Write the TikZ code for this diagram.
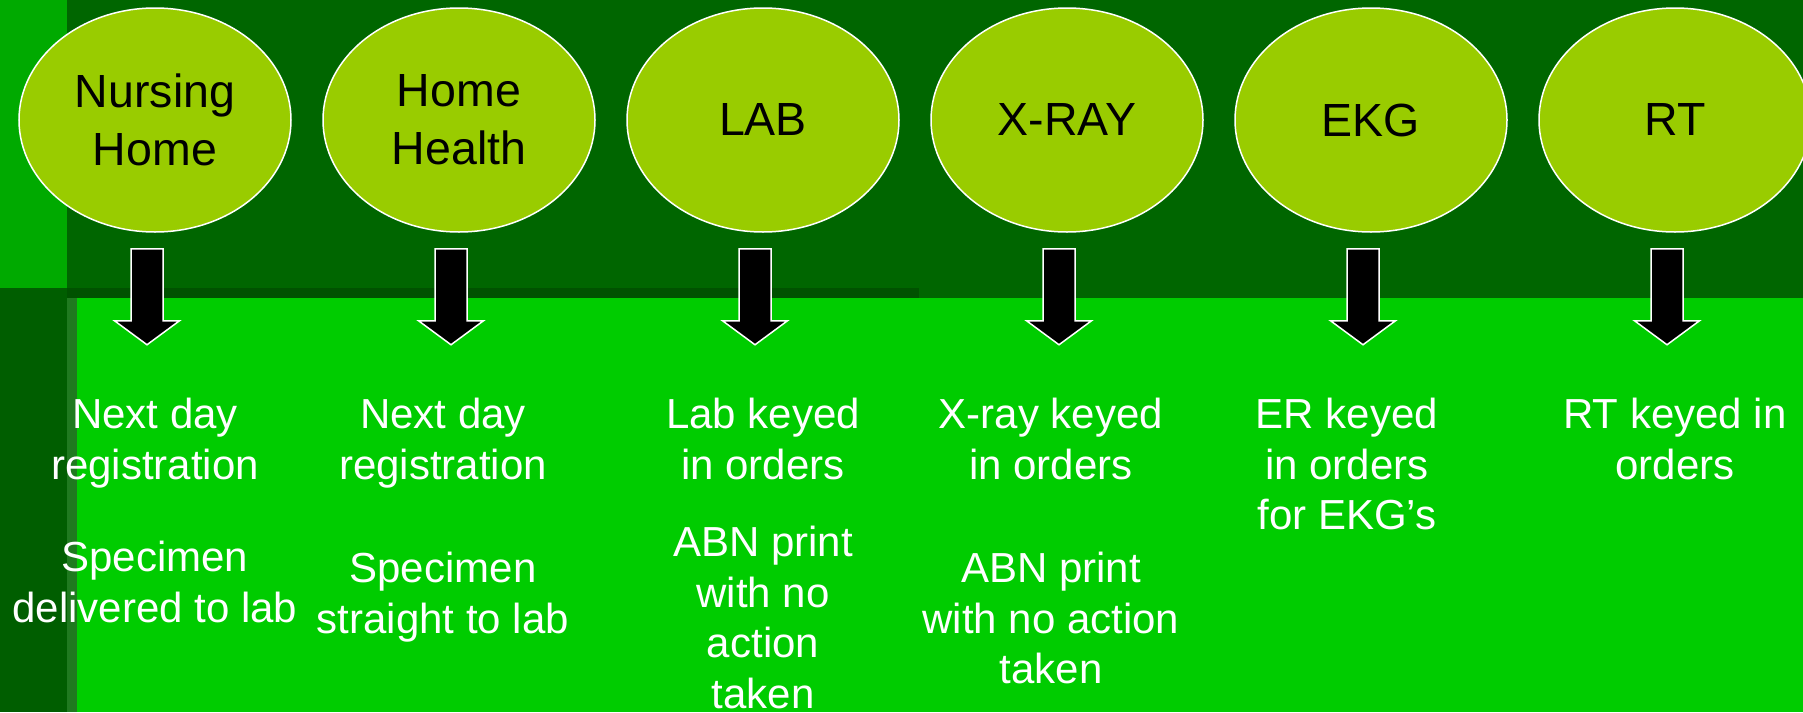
\documentclass[tikz,border=0pt]{standalone}
\usepackage{fontspec}
\setmainfont{Liberation Sans}
\usepackage{tikz}
\usetikzlibrary{shapes, positioning}

\definecolor{slidedark}{HTML}{006600}
\definecolor{slidelight}{HTML}{00CC00}
\definecolor{slidestrip}{HTML}{00AA00}
\definecolor{slideshade}{HTML}{005E00}
\definecolor{slideband}{HTML}{005200}
\definecolor{slideedge}{HTML}{1F7A1F}
\definecolor{stagefill}{HTML}{99CC00}

\tikzset{
  pics/downarrow/.style={code={
    \draw[blockarrow] (-16,0) -- (16,0) -- (16,72) -- (32.5,72) -- (0,96) -- (-32.5,72) -- (-16,72) -- cycle;
  }}
}

\begin{document}
\begin{tikzpicture}[
  x=1pt, y=-1pt,
  stage/.style={ellipse, draw=white, line width=1.5pt, fill=stagefill, minimum width=272pt, minimum height=224pt, inner sep=0pt, align=center, font=\fontsize{46.5}{58}\selectfont},
  note/.style={anchor=north, inner sep=0pt, align=center, text=white, font=\fontsize{42}{50.5}\selectfont},
  blockarrow/.style={fill=black, draw=white, line width=1.5pt}
]
  % slide background
  \useasboundingbox (0,0) rectangle (1803,712);
  \fill[slidelight] (0,0) rectangle (1803,712);
  \fill[slidedark] (67,0) rectangle (1803,298);
  \fill[slidestrip] (0,0) rectangle (67,288);
  \fill[slideshade] (0,288) rectangle (67,712);
  \fill[slideband] (67,288) rectangle (919,298);
  \fill[slideedge] (67,298) rectangle (77,712);

  % departments
  \node[stage] (d1) at (155,120) {Nursing\\Home};
  \node[stage] (d2) at (459,120) {Home\\Health};
  \node[stage] (d3) at (763,120) {LAB};
  \node[stage] (d4) at (1067,120) {X-RAY};
  \node[stage] (d5) at (1371,120) {EKG};
  \node[stage] (d6) at (1675,120) {RT};

  % arrows down to the notes
  \pic at ([xshift=-8pt,yshift=-16pt]d1.south) {downarrow};
  \pic at ([xshift=-8pt,yshift=-16pt]d2.south) {downarrow};
  \pic at ([xshift=-8pt,yshift=-16pt]d3.south) {downarrow};
  \pic at ([xshift=-8pt,yshift=-16pt]d4.south) {downarrow};
  \pic at ([xshift=-8pt,yshift=-16pt]d5.south) {downarrow};
  \pic at ([xshift=-8pt,yshift=-16pt]d6.south) {downarrow};

  % notes
  \node[note] (n11) at (155,398) {Next day\\registration};
  \node[note] (n12) at (155,541) {Specimen\\delivered to lab};
  \node[note] (n21) at (443,398) {Next day\\registration};
  \node[note] (n22) at (443,552) {Specimen\\straight to lab};
  \node[note] (n31) at (763,398) {Lab keyed\\in orders};
  \node[note] (n32) at (763,526) {ABN print\\with no\\action\\taken};
  \node[note] (n41) at (1051,398) {X-ray keyed\\in orders};
  \node[note] (n42) at (1051,552) {ABN print\\with no action\\taken};
  \node[note] (n51) at (1347,398) {ER keyed\\in orders\\for EKG’s};
  \node[note] (n61) at (1675,398) {RT keyed in\\orders};
\end{tikzpicture}
\end{document}
